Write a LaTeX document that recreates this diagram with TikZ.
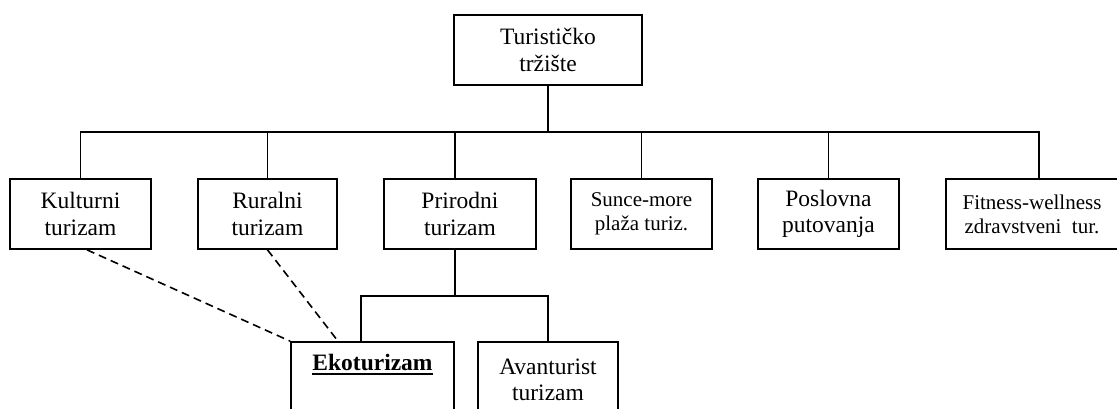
\documentclass[tikz,border=0pt]{standalone}
\usepackage{fontspec}
\setmainfont{Liberation Serif}
\usetikzlibrary{calc}
\newsavebox\ulbox
\newcommand\thickul[1]{\sbox\ulbox{#1}\rlap{\usebox\ulbox}\raisebox{-4pt}{\rule{\wd\ulbox}{1.8pt}}}
\begin{document}
\begin{tikzpicture}[x=1pt,y=-1pt,
  box/.style={draw, line width=1.7pt, align=center, inner sep=0pt,
    font=\fontsize{23.5}{26.5}\selectfont},
  smallbox/.style={box, font=\fontsize{21}{24}\selectfont},
  link/.style={line width=1.7pt},
  dashlink/.style={line width=1.6pt, dash pattern=on 8pt off 5pt}]
\useasboundingbox (0,0) rectangle (1117,408);
\clip (0,0) rectangle (1117,408);
\fill[white] (0,0) rectangle (1117,408);
% top
\node[box, minimum width=188pt, minimum height=70pt] (top) at (548,50) {Turističko\\tržište};
% level 2
\node[box, minimum width=141pt, minimum height=70pt] (kul) at (80.5,214) {Kulturni\\turizam};
\node[box, minimum width=139pt, minimum height=70pt] (rur) at (267.5,214) {Ruralni\\turizam};
\node[box, minimum width=152pt, minimum height=70pt] (pri) at (460,214) {Prirodni\\turizam};
\node[smallbox, minimum width=141pt, minimum height=70pt] (sun) at (641.5,214) {Sunce-more\\plaža turiz.};
\node[box, minimum width=141pt, minimum height=70pt] (pos) at (828.5,214) {Poslovna\\putovanja};
\node[smallbox, minimum width=172pt, minimum height=70pt] (fit) at (1032,214) {Fitness-wellness\\zdravstveni~ tur.};
% level 3
\node[box, minimum width=163pt, minimum height=76pt] (eko) at (372.5,380) {\thickul{\textbf{Ekoturizam}}\\\strut};
\node[box, minimum width=140pt, minimum height=76pt] (ava) at (548,380) {Avanturist\\turizam};
% bus coordinates
\coordinate (bus) at (548,132);
\coordinate (bus2) at (455,296);
% connectors level 1 -> 2
\draw[link] (top.south) -- (bus);
\draw[link] (kul.north) -- (kul.north |- bus) -- ([xshift=7pt]fit.north |- bus) -- ([xshift=7pt]fit.north);
\draw[link] (rur.north) -- (rur.north |- bus);
\draw[link] ([xshift=-5pt]pri.north) -- ([xshift=-5pt]pri.north |- bus);
\draw[link] (sun.north) -- (sun.north |- bus);
\draw[link] (pos.north) -- (pos.north |- bus);
% level 2 -> 3
\draw[link] ([xshift=-5pt]pri.south) -- (bus2);
\draw[link] ([xshift=-11.5pt]eko.north) -- ([xshift=-11.5pt]eko.north |- bus2) -- (ava.north |- bus2) -- (ava.north);
% dashed
\draw[dashlink] ([xshift=6.5pt]kul.south) -- (eko.north west);
\draw[dashlink] (rur.south) -- ([xshift=-34.5pt]eko.north);
\end{tikzpicture}
\end{document}
